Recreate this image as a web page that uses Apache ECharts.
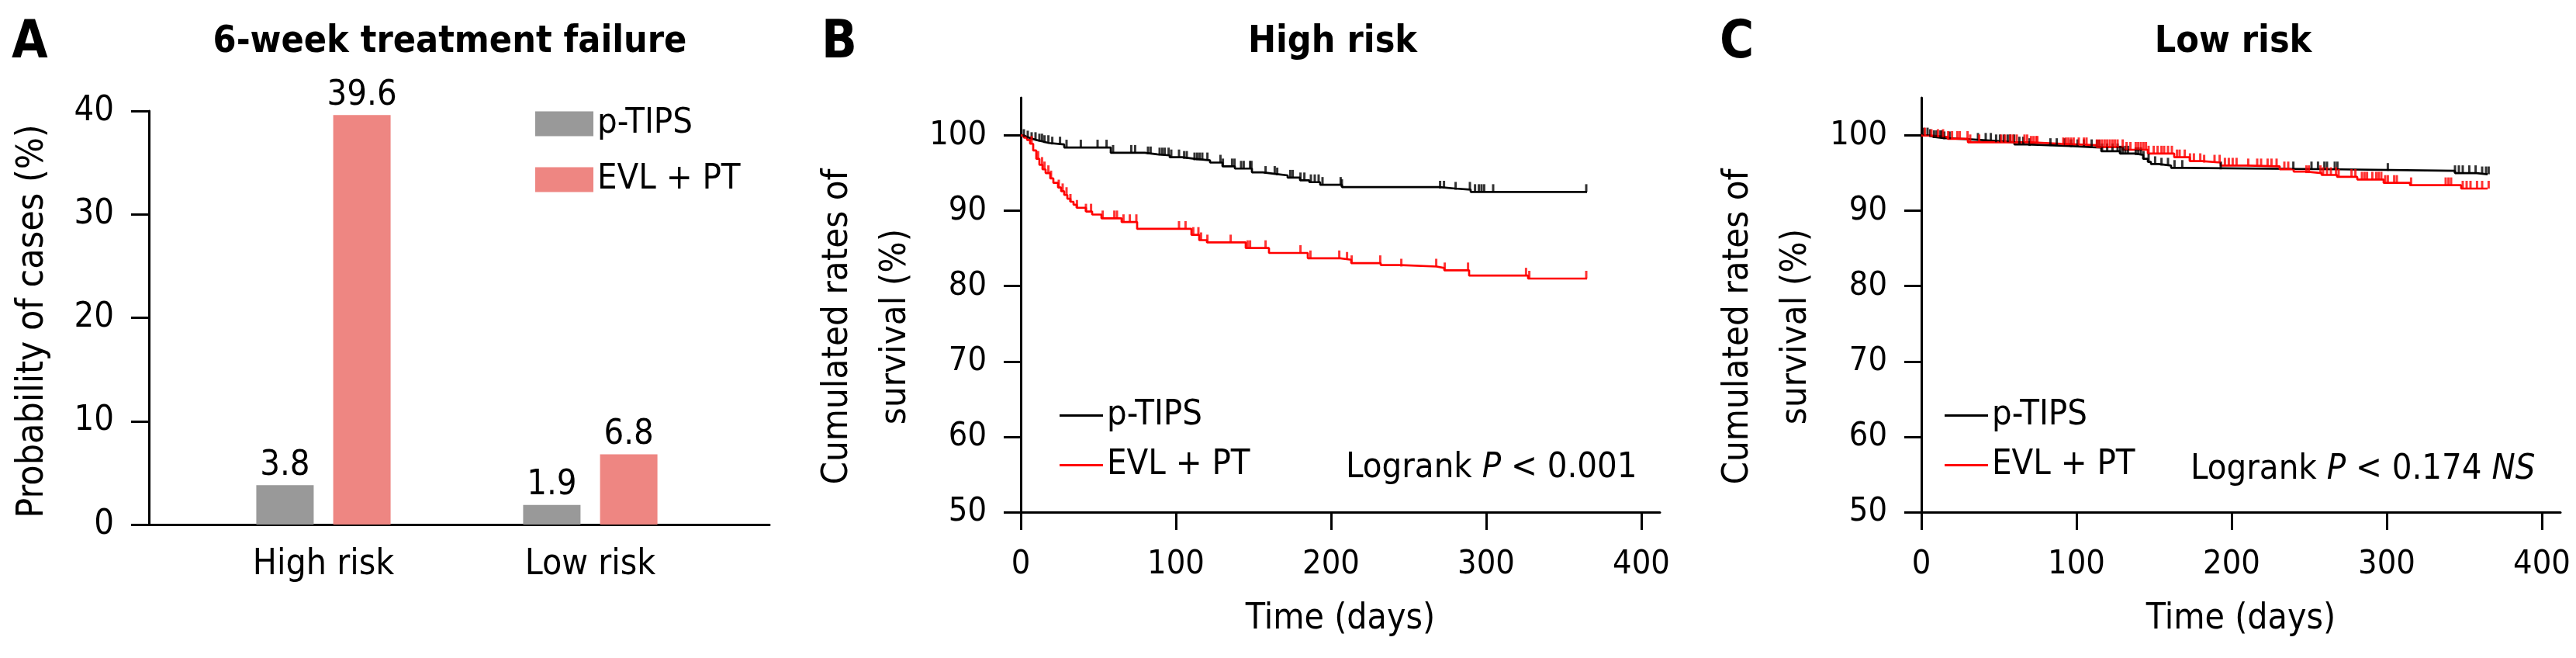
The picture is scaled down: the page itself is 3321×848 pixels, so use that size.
<!DOCTYPE html>
<html>
<head>
<meta charset="utf-8">
<script src="https://cdn.jsdelivr.net/npm/echarts@6/dist/echarts.min.js"></script>
<style>
html,body{margin:0;padding:0;background:#fff;}
#chart{width:3321px;height:848px;}
</style>
</head>
<body>
<div id="chart"></div>
<script>
// ---------- data ----------
const barCategories = ['High risk', 'Low risk'];
const barTIPS = [3.8, 1.9];
const barEVL = [39.6, 6.8];
const yTicksBar = [0, 10, 20, 30, 40];
const xTicksKM = [0, 100, 200, 300, 400];
const yTicksKM = [50, 60, 70, 80, 90, 100];

// Kaplan-Meier steps: [day, survival % after the step]
const highTIPS = [[0,100],[2,99.8],[4,99.6],[7,99.4],[10,99.2],[14,99.0],[18,98.8],[28,98.4],[58,97.7],[80,97.5],[88,97.35],[96,97.1],[104,96.9],[112,96.7],[122,96.4],[130,95.9],[138,95.6],[149,95.1],[156,94.9],[164,94.7],[172,94.4],[180,94.05],[186,93.8],[193,93.45],[207,93.15],[270,92.95],[280,92.8],[290,92.5],[365,92.5]];
const highTIPSCensor = [2,4.5,7,9.5,12,13.7,15.3,17.8,20.3,25.3,29.5,38.7,49.5,55.3,59.5,71.2,73.7,82,83.7,89.5,91.2,92.8,95.3,97,102,105.3,107,112,113.7,115.3,117,120.3,128.7,130.3,136.2,137.8,142,143.7,147.8,148.7,157.8,163.7,165.3,173.7,175.3,180.3,182.8,187,189.5,192,194.5,206.2,207,270.3,272.8,280.3,289.5,292.8,295.3,297,298.7,304.5,364.5];
const highEVL = [[0,100],[2,99.7],[4,99.4],[6,98.9],[8,98.0],[10,96.9],[12,96.1],[14,95.5],[16,95.0],[19,94.3],[21,93.7],[24,93.1],[26,92.6],[28,92.1],[30,91.6],[32,91.2],[34,90.8],[36,90.4],[42,89.9],[46,89.5],[52,89.0],[65,88.5],[75,87.6],[110,86.8],[115,86.1],[120,85.8],[145,85.05],[160,84.4],[185,83.7],[206,83.5],[213,83.05],[232,82.8],[245,82.6],[268,82.4],[273,82.1],[289,81.4],[327,81.0],[365,81.0]];
const highEVLCensor = [7,11.2,13.7,15.3,17.8,19.5,24.5,27,29.5,32,36.2,42,45.3,52.8,60.3,62,66.2,70.3,74.5,102,106.2,111.2,114.5,116.2,120.3,135.3,146.2,147.8,157.8,180.3,186.7,205.3,210.3,213.3,231.7,245.3,267.8,273.3,288.3,325.7,327.8,364.5];
const lowTIPS = [[0,100],[5,99.8],[8,99.65],[14,99.5],[30,99.3],[46,99.1],[60,98.8],[68,98.6],[96,98.45],[110,98.4],[116,97.9],[128,97.6],[138,97.4],[143,96.9],[146,96.5],[148,96.2],[153,96.0],[161,95.7],[170,95.5],[270,95.3],[344,95.0],[358,94.85],[365,94.85]];
const lowTIPSCensor = [1.5,4,5.7,8.2,9.8,12.3,13.2,14.8,18.2,36.5,41.5,44.8,48.2,50.7,53.2,55.7,57.3,59.8,63.2,65.7,69.8,83.2,87.3,92.3,96.5,100.7,104.8,109.8,113.2,114.8,116.5,119.8,123.2,126.5,128.2,129.8,131.5,133.2,138.2,139.8,141.5,143.2,146.5,150.7,154.8,159,163.2,168.2,193,239.8,251.5,255.7,259.8,261.5,266.5,268.2,300.7,344,346.5,349,353.2,357.3,361.5,364,365.7];
const lowEVL = [[0,100],[6,99.8],[17,99.55],[30,99.1],[70,98.9],[90,98.7],[113,98.45],[130,98.1],[146,97.6],[163,97.1],[173,96.6],[181,96.4],[193,96.0],[210,95.9],[231,95.5],[240,95.2],[248,95.0],[258,94.75],[268,94.5],[281,94.15],[298,93.7],[315,93.4],[348,92.95],[365,92.95]];
const lowEVLCensor = [2.3,6.5,10.7,14,17.3,19.8,23.2,24.8,29.8,31.5,37.3,51.5,54,57.3,59,61.5,66.5,68.2,70.7,72.3,74,74.8,91.5,93.2,94.8,96.5,98.2,101.5,104.8,106.5,113.2,114.8,116.5,118.2,119.8,121.5,123.2,124.8,126.5,129.8,132.3,134.8,138.2,139.8,141.5,143.2,144.8,146.5,149.8,152.3,154.8,156.5,159,161.5,164.8,166.5,169.8,173.2,175.7,179.8,182.3,189,192.3,195.7,198.2,200.7,203.2,210.7,216.5,219,223.2,225.7,229,234,236.5,248.2,249.8,257.3,259,261.5,264,267.3,269,277.3,279.8,284,285.7,287.3,290.7,293.2,294.8,296.5,299,300.7,304.8,306.5,315.7,338,339.8,341.5,349,351.5,354,358.2,361.5,365.7];

// ---------- helpers ----------
const FONT = "'DejaVu Sans Condensed','DejaVu Sans',sans-serif";
function survivalAt(steps, t) {
  let v = steps[0][1];
  for (const s of steps) { if (s[0] <= t) v = s[1]; else break; }
  return v;
}
function censorPoints(steps, times) { return times.map(t => [t, survivalAt(steps, t)]); }

const BLACK = '#000000', RED = '#ff0000', GRAY = '#999999', PINK = '#ee8682';

function kmXAxis(gi) {
  return {
    gridIndex: gi, type: 'value', min: 0, max: 412,
    axisLine: {show: true, onZero: false, lineStyle: {color: BLACK, width: 3}},
    axisTick: {show: true, length: 23, lineStyle: {color: BLACK, width: 3}, customValues: xTicksKM},
    axisLabel: {show: true, margin: 46, fontSize: 43, lineHeight: 43, color: BLACK, fontFamily: FONT, customValues: xTicksKM},
    splitLine: {show: false},
    name: 'Time (days)', nameLocation: 'middle', nameGap: 115,
    nameTextStyle: {fontSize: 46, lineHeight: 46, color: BLACK, fontFamily: FONT}
  };
}
function kmYAxis(gi) {
  return {
    gridIndex: gi, type: 'value', min: 50, max: 105,
    axisLine: {show: true, onZero: false, lineStyle: {color: BLACK, width: 3}},
    axisTick: {show: true, length: 22, lineStyle: {color: BLACK, width: 3}, customValues: yTicksKM},
    axisLabel: {show: true, margin: 44, fontSize: 43, lineHeight: 43, color: BLACK, fontFamily: FONT, customValues: yTicksKM},
    splitLine: {show: false},
    name: 'Cumulated rates of\nsurvival (%)', nameLocation: 'middle', nameGap: 124,
    nameTextStyle: {fontSize: 47, lineHeight: 75, color: BLACK, fontFamily: FONT, padding: [0, 56, 0, 0]}
  };
}
function kmLine(name, data, color, xi) {
  return {name: name, type: 'line', step: 'end', xAxisIndex: xi, yAxisIndex: xi, data: data,
    symbol: 'none', showSymbol: false, lineStyle: {color: color, width: 2.7}, itemStyle: {color: color}, z: 3};
}
function kmCensor(name, steps, times, color, xi) {
  return {name: name, type: 'scatter', xAxisIndex: xi, yAxisIndex: xi, data: censorPoints(steps, times),
    symbol: 'rect', symbolSize: [3, 10], symbolOffset: [0, '-50%'], itemStyle: {color: color}, z: 4};
}
function txt(x, y, text, size, opts) {
  return {type: 'text', x: x, y: y, style: Object.assign({
    text: text, fontSize: size, fontFamily: FONT, fill: BLACK, align: 'left', verticalAlign: 'middle'
  }, opts || {})};
}
function lineLegend(left, names, textGap) {
  return {orient: 'vertical', left: left, top: 513,
    data: names.map(n => ({name: n, icon: 'rect'})),
    itemWidth: 56, itemHeight: 3, itemGap: 19, itemTextGap: textGap, padding: 0,
    formatter: n => n.replace(/ \(.*\)$/, ''),
    textStyle: {fontSize: 45, lineHeight: 45, color: BLACK, fontFamily: FONT}};
}
const richNormal = {fontSize: 45, fontFamily: FONT, fill: BLACK};
const richItal = {fontSize: 45, fontFamily: FONT, fontStyle: 'italic', fill: BLACK};

const option = {
  animation: false,
  backgroundColor: '#ffffff',
  grid: [
    {left: 192, top: 143, width: 800, height: 533},
    {left: 245, top: 143, width: 688, height: 533},
    {left: 1316, top: 126, width: 824, height: 534},
    {left: 2477, top: 126, width: 824, height: 534}
  ],
  xAxis: [
    {gridIndex: 0, type: 'value', min: 0, max: 1,
      axisLine: {show: true, onZero: false, lineStyle: {color: BLACK, width: 3}},
      axisTick: {show: false}, axisLabel: {show: false}, splitLine: {show: false}},
    {gridIndex: 1, type: 'category', data: barCategories,
      axisLine: {show: false}, axisTick: {show: false},
      axisLabel: {show: true, margin: 29, fontSize: 46, lineHeight: 46, color: BLACK, fontFamily: FONT}},
    kmXAxis(2), kmXAxis(3)
  ],
  yAxis: [
    {gridIndex: 0, type: 'value', min: 0, max: 40, interval: 10,
      axisLine: {show: true, onZero: false, lineStyle: {color: BLACK, width: 3}},
      axisTick: {show: true, length: 23, lineStyle: {color: BLACK, width: 3}, customValues: yTicksBar},
      axisLabel: {show: true, margin: 45, fontSize: 45, lineHeight: 45, color: BLACK, fontFamily: FONT, customValues: yTicksBar},
      splitLine: {show: false},
      name: 'Probability of cases (%)', nameLocation: 'middle', nameGap: 125,
      nameTextStyle: {fontSize: 48, lineHeight: 48, color: BLACK, fontFamily: FONT, padding: [0, 9, 0, 0]}},
    {gridIndex: 1, type: 'value', min: 0, max: 40, show: false},
    kmYAxis(2), kmYAxis(3)
  ],
  legend: [
    {orient: 'vertical', left: 690, top: 137, data: ['p-TIPS', 'EVL + PT'], icon: 'rect',
      itemWidth: 75, itemHeight: 32, itemGap: 27, itemTextGap: 28, padding: 0,
      textStyle: {fontSize: 45, lineHeight: 45, color: BLACK, fontFamily: FONT}},
    lineLegend(1366, ['p-TIPS (high)', 'EVL + PT (high)'], 24),
    lineLegend(2507, ['p-TIPS (low)', 'EVL + PT (low)'], 19)
  ],
  series: [
    {name: 'p-TIPS', type: 'bar', xAxisIndex: 1, yAxisIndex: 1, data: barTIPS, barWidth: 74, barGap: '34%',
      itemStyle: {color: GRAY},
      label: {show: true, position: 'top', distance: 3, fontSize: 45, lineHeight: 45, color: BLACK, fontFamily: FONT}},
    {name: 'EVL + PT', type: 'bar', xAxisIndex: 1, yAxisIndex: 1, data: barEVL, barWidth: 74, barGap: '34%',
      itemStyle: {color: PINK},
      label: {show: true, position: 'top', distance: 3, fontSize: 45, lineHeight: 45, color: BLACK, fontFamily: FONT}},
    kmLine('p-TIPS (high)', highTIPS, BLACK, 2),
    kmLine('EVL + PT (high)', highEVL, RED, 2),
    kmCensor('p-TIPS censored (high)', highTIPS, highTIPSCensor, BLACK, 2),
    kmCensor('EVL + PT censored (high)', highEVL, highEVLCensor, RED, 2),
    kmLine('p-TIPS (low)', lowTIPS, BLACK, 3),
    kmLine('EVL + PT (low)', lowEVL, RED, 3),
    kmCensor('p-TIPS censored (low)', lowTIPS, lowTIPSCensor, BLACK, 3),
    kmCensor('EVL + PT censored (low)', lowEVL, lowEVLCensor, RED, 3)
  ],
  graphic: [
    txt(15, 57, 'A', 67, {fontWeight: 'bold'}),
    txt(1059, 57, 'B', 67, {fontWeight: 'bold'}),
    txt(2217, 57, 'C', 67, {fontWeight: 'bold'}),
    txt(580, 55, '6-week treatment failure', 48, {fontWeight: 'bold', align: 'center'}),
    txt(1718, 55, 'High risk', 48, {fontWeight: 'bold', align: 'center'}),
    txt(2879, 55, 'Low risk', 48, {fontWeight: 'bold', align: 'center'}),
    {type: 'text', x: 1735, y: 603, style: {
      text: '{n|Logrank }{i|P}{n| < 0.001}', align: 'left', verticalAlign: 'middle',
      rich: {n: richNormal, i: richItal}, fontSize: 45, fontFamily: FONT}},
    {type: 'text', x: 2824, y: 605, style: {
      text: '{n|Logrank }{i|P}{n| < 0.174 }{i|NS}', align: 'left', verticalAlign: 'middle',
      rich: {n: richNormal, i: richItal}, fontSize: 45, fontFamily: FONT}}
  ]
};

const chart = echarts.init(document.getElementById('chart'), null, {renderer: 'canvas', width: 3321, height: 848});
chart.setOption(option);
</script>
</body>
</html>
